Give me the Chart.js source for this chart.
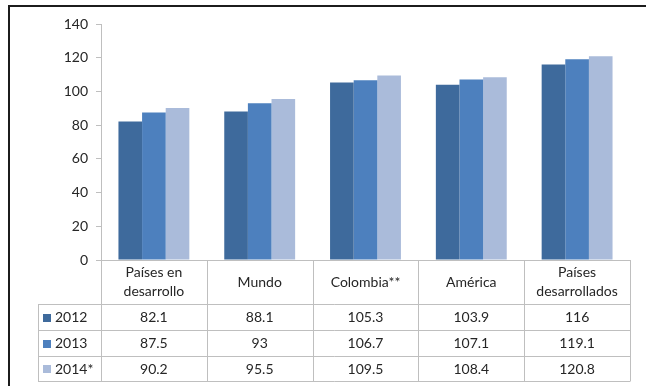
<!DOCTYPE html>
<html>
<head>
<meta charset="utf-8">
<script src="https://cdn.jsdelivr.net/npm/chart.js@4.4.1/dist/chart.umd.min.js"></script>
<style>
  html, body { margin: 0; padding: 0; background: #fff; }
  #wrap { position: relative; width: 646px; height: 386px; }
</style>
</head>
<body>
<div id="wrap"><canvas id="c" width="646" height="386"></canvas></div>
<script>
// Categories (multi-line labels as arrays)
const categories = [["Países en", "desarrollo"], "Mundo", "Colombia**", "América", ["Países", "desarrollados"]];
const seriesNames = ["2012", "2013", "2014*"];
const values2012 = [82.1, 88.1, 105.3, 103.9, 116];
const values2013 = [87.5, 93, 106.7, 107.1, 119.1];
const values2014 = [90.2, 95.5, 109.5, 108.4, 120.8];
const yTicks = [0, 20, 40, 60, 80, 100, 120, 140];

const seriesColors = ["#3E6A9C", "#4D80BE", "#AABBDA"];
const seriesValues = [values2012, values2013, values2014];

const FONT = "Lato, 'Open Sans', sans-serif";
const TEXT = "#262626";
const LINE = "#BFBFBF";

// Row geometry of the data table under the plot
const headerBottom = 304;
const rowBottoms = [330, 356, 381];
const legendLeft = 38;

const tablePlugin = {
  id: "dataTable",
  beforeDraw(chart) {
    const ctx = chart.ctx;
    ctx.save();
    ctx.fillStyle = "#fff";
    ctx.fillRect(0, 0, chart.width, chart.height);
    // outer frame
    ctx.strokeStyle = "#1c1c1c";
    ctx.lineWidth = 2;
    ctx.strokeRect(9, 6, 800, 600);
    ctx.restore();
  },
  afterDraw(chart) {
    const ctx = chart.ctx;
    const x = chart.scales.x;
    const area = chart.chartArea;
    const n = categories.length;
    const colW = (area.right - area.left) / n;
    const top = area.bottom;
    const bottom = rowBottoms[rowBottoms.length - 1];

    ctx.save();
    ctx.strokeStyle = LINE;
    ctx.lineWidth = 1;
    const px = v => Math.round(v) + 0.5;

    // vertical lines at category boundaries
    for (let i = 0; i <= n; i++) {
      const bx = px(area.left + i * colW);
      ctx.beginPath();
      ctx.moveTo(bx, top);
      ctx.lineTo(bx, bottom);
      ctx.stroke();
    }
    // legend column left edge
    ctx.beginPath();
    ctx.moveTo(px(legendLeft), headerBottom);
    ctx.lineTo(px(legendLeft), bottom);
    ctx.stroke();
    // horizontal lines
    ctx.beginPath();
    ctx.moveTo(area.left - 5, px(top));
    ctx.lineTo(area.right, px(top));
    ctx.stroke();
    [headerBottom].concat(rowBottoms).forEach(yy => {
      ctx.beginPath();
      ctx.moveTo(legendLeft, px(yy));
      ctx.lineTo(area.right + 0.5, px(yy));
      ctx.stroke();
    });

    ctx.fillStyle = TEXT;
    ctx.font = "14px " + FONT;
    ctx.textAlign = "center";
    ctx.textBaseline = "middle";

    // header labels
    const headMid = (top + headerBottom) / 2;
    categories.forEach((lab, i) => {
      const cx = x.getPixelForValue(i);
      const lines = Array.isArray(lab) ? lab : [lab];
      const lh = 19;
      lines.forEach((t, k) => {
        ctx.fillText(t, cx, headMid + (k - (lines.length - 1) / 2) * lh);
      });
    });

    // data rows
    let prev = headerBottom;
    rowBottoms.forEach((rb, r) => {
      const my = (prev + rb) / 2 + 0.5;
      ctx.textAlign = "center";
      ctx.fillStyle = TEXT;
      seriesValues[r].forEach((v, i) => {
        ctx.fillText(String(v), x.getPixelForValue(i), my);
      });
      // legend key
      ctx.fillStyle = seriesColors[r];
      ctx.fillRect(43, Math.round(my - 4), 8, 8);
      ctx.fillStyle = TEXT;
      ctx.textAlign = "left";
      ctx.fillText(seriesNames[r], 55, my);
      prev = rb;
    });
    ctx.restore();
  }
};

new Chart(document.getElementById("c"), {
  type: "bar",
  data: {
    labels: categories,
    datasets: seriesNames.map((name, i) => ({
      label: name,
      data: seriesValues[i],
      backgroundColor: seriesColors[i],
      borderWidth: 0,
      categoryPercentage: 0.67,
      barPercentage: 1.0
    }))
  },
  options: {
    responsive: false,
    animation: false,
    devicePixelRatio: 1,
    layout: { padding: { left: 0, right: 16, top: 24, bottom: 0 } },
    plugins: { legend: { display: false }, tooltip: { enabled: false } },
    scales: {
      x: {
        grid: { display: false },
        border: { display: false },
        ticks: { display: false },
        afterFit(s) { s.height = 126; }
      },
      y: {
        min: 0,
        max: 140,
        afterBuildTicks(s) { s.ticks = yTicks.map(v => ({ value: v })); },
        afterFit(s) { s.width = 101; },
        grid: { drawOnChartArea: false, drawTicks: true, tickLength: 5, color: LINE },
        border: { display: true, color: LINE },
        ticks: { color: TEXT, font: { family: FONT, size: 14 }, padding: 8 }
      }
    }
  },
  plugins: [tablePlugin]
});
</script>
</body>
</html>
